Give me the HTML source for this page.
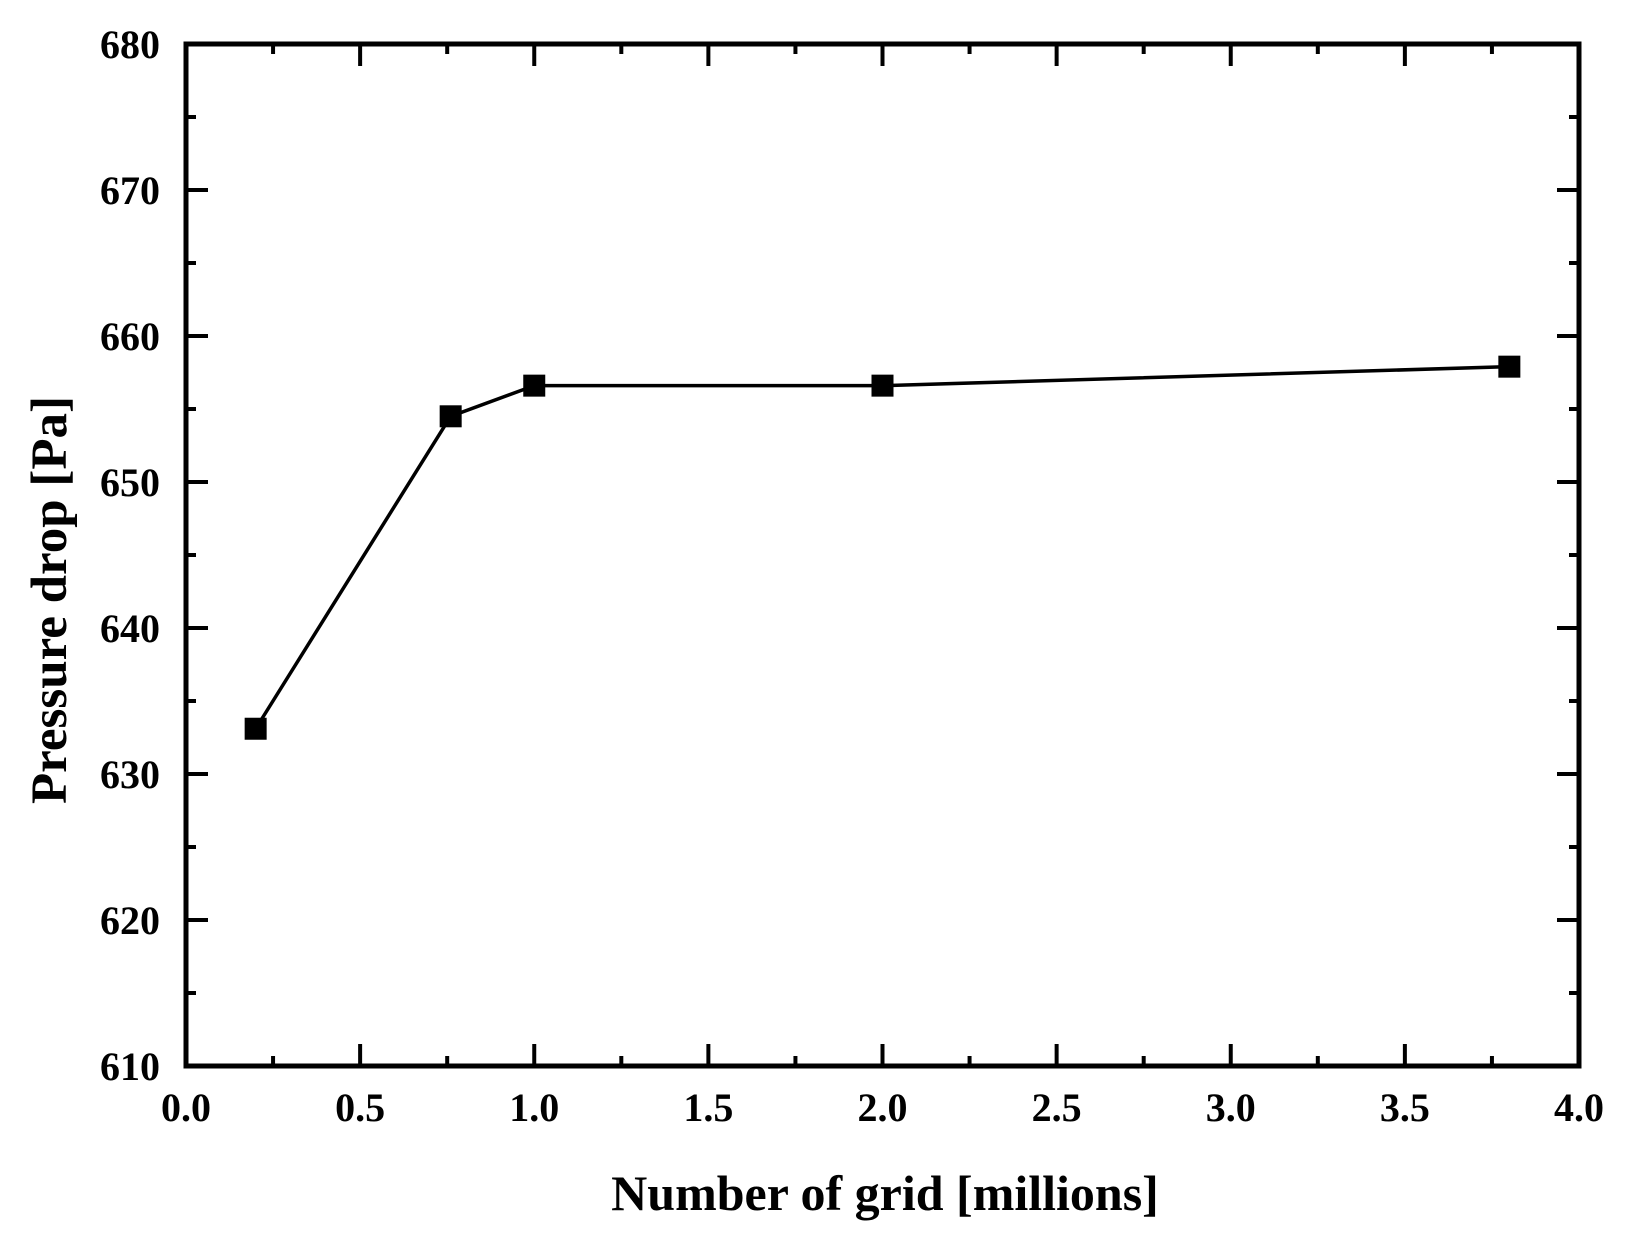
<!DOCTYPE html>
<html><head><meta charset="utf-8"><style>
html,body{margin:0;padding:0;background:#fff}
svg{display:block}
text{font-family:"Liberation Serif",serif;font-weight:bold;fill:#000}
</style></head><body>
<svg width="1635" height="1243" viewBox="0 0 1635 1243">
<g id="plot"></g>
<text x="885" y="1210" font-size="50" text-anchor="middle">Number of grid [millions]</text>
<text transform="translate(66,600) rotate(-90)" font-size="51" text-anchor="middle">Pressure drop [Pa]</text>
</svg>
<script>
const xValues=[0.2,0.76,1.0,2.0,3.8];
const yValues=[633.1,654.5,656.6,656.6,657.9];
const xTicks=["0.0","0.5","1.0","1.5","2.0","2.5","3.0","3.5","4.0"];
const yTicks=["610","620","630","640","650","660","670","680"];
const L=186,R=1579,T=44,B=1066,xmin=0,xmax=4,ymin=610,ymax=680;
const sx=v=>L+(v-xmin)/(xmax-xmin)*(R-L);
const sy=v=>B-(v-ymin)/(ymax-ymin)*(B-T);
const NS="http://www.w3.org/2000/svg";
const g=document.getElementById('plot');
function mk(t,a){const e=document.createElementNS(NS,t);for(const k in a)e.setAttribute(k,a[k]);g.appendChild(e);return e;}
for(let i=0;i<=16;i++){const v=i*0.25,x=sx(v),len=i%2?10:22;
 let e=mk('line',{x1:x,y1:B,x2:x,y2:B-len,stroke:'#000','stroke-width':4});
 
 e=mk('line',{x1:x,y1:T,x2:x,y2:T+len,stroke:'#000','stroke-width':4});
 }
for(let i=0;i<=14;i++){const v=610+i*5,y=sy(v),len=i%2?10:22;
 let e=mk('line',{x1:L,y1:y,x2:L+len,y2:y,stroke:'#000','stroke-width':4});
 
 e=mk('line',{x1:R,y1:y,x2:R-len,y2:y,stroke:'#000','stroke-width':4});
 }
xTicks.forEach(s=>{const t=mk('text',{x:sx(parseFloat(s)),y:1121,'font-size':40,'text-anchor':'middle'});t.textContent=s;
 });
yTicks.forEach(s=>{const t=mk('text',{x:160,y:sy(parseFloat(s))+14,'font-size':40,'text-anchor':'end'});t.textContent=s;
 });
const fr=mk('rect',{x:L,y:T,width:R-L,height:B-T,fill:'none',stroke:'#000','stroke-width':5});

const ln=mk('polyline',{points:xValues.map((x,i)=>sx(x)+','+sy(yValues[i])).join(' '),fill:'none',stroke:'#000','stroke-width':3.5});

xValues.forEach((x,i)=>{const r=mk('rect',{x:sx(x)-11,y:sy(yValues[i])-11,width:22,height:22,fill:'#000'});
 });
</script>
</body></html>
